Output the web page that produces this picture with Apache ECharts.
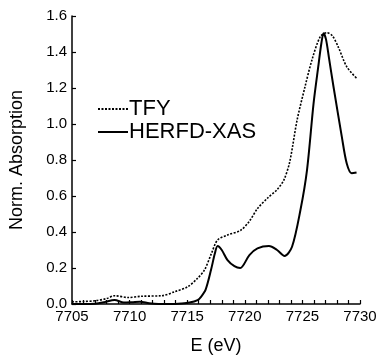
<!DOCTYPE html>
<html>
<head>
<meta charset="UTF-8">
<title>XAS</title>
<script src="https://cdn.jsdelivr.net/npm/echarts@6/dist/echarts.min.js"></script>
<style>
  html, body { margin: 0; padding: 0; background: #fff; }
</style>
</head>
<body>
<div id="main" style="width: 382px; height: 363px;"></div>
<script type="text/javascript">
// TFY (dotted)
var tfyE = [7705, 7706, 7707, 7708, 7708.7, 7709.9, 7711, 7712.8, 7713.9, 7715.05, 7715.9, 7716.5, 7717.1, 7717.64,
            7718.5, 7719.65, 7720.4, 7721.1, 7722, 7722.8, 7723.4, 7723.9, 7724.54, 7725.2, 7725.83, 7726.55,
            7727.13, 7727.6, 7728.1, 7728.85, 7729.7];
var tfyY = [0.012, 0.014, 0.018, 0.03, 0.046, 0.036, 0.043, 0.046, 0.068, 0.096, 0.143, 0.189, 0.28, 0.356,
            0.383, 0.41, 0.46, 0.53, 0.59, 0.635, 0.69, 0.79, 1.022, 1.2, 1.356, 1.485,
            1.507, 1.49, 1.43, 1.318, 1.254];
// HERFD-XAS (solid)
var herfdE = [7705, 7706, 7707, 7707.8, 7708.7, 7709.5, 7710.2, 7710.9, 7711.7, 7712.5, 7713.5, 7714.5, 7715.2,
              7715.9, 7716.2, 7716.6, 7717.07, 7717.4, 7717.64, 7718, 7718.5, 7719.1, 7719.6, 7720.4, 7721.1,
              7722.1, 7722.8, 7723.45, 7724.1, 7724.83, 7725.4, 7725.97, 7726.4, 7726.65, 7726.84, 7727.05,
              7727.3, 7727.7, 7728.42, 7728.85, 7729.28, 7729.7];
var herfdY = [0.0, 0.0, 0.002, 0.01, 0.022, 0.008, 0.01, 0.013, 0.004, 0.0, 0.0, 0.003, 0.008,
              0.022, 0.04, 0.08, 0.19, 0.28, 0.322, 0.3, 0.244, 0.21, 0.2, 0.272, 0.309,
              0.322, 0.3, 0.267, 0.318, 0.522, 0.744, 1.115, 1.33, 1.45, 1.504, 1.47,
              1.37, 1.207, 0.93, 0.78, 0.726, 0.73];
var seriesNames = ['TFY', 'HERFD-XAS'];

function pairs(xs, ys) {
    var out = [];
    for (var i = 0; i < xs.length; i++) out.push([xs[i], ys[i]]);
    return out;
}

var myChart = echarts.init(document.getElementById('main'));
var font = 'Liberation Sans, Arial, sans-serif';

var option = {
    animation: false,
    backgroundColor: '#fff',
    grid: { left: 70, right: 22, top: 16, bottom: 59 },
    legend: {
        orient: 'vertical',
        left: 92,
        top: 93,
        itemWidth: 30,
        itemHeight: 10,
        itemGap: 1,
        itemStyle: { opacity: 0 },
        textStyle: { fontFamily: font, fontSize: 22, color: '#000', padding: [0, 0, 0, -4] },
        data: seriesNames
    },
    xAxis: {
        type: 'value',
        min: 7705,
        max: 7730,
        interval: 5,
        name: 'E (eV)',
        nameLocation: 'middle',
        nameGap: 33,
        nameTextStyle: { fontFamily: font, fontSize: 18, color: '#000' },
        axisLine: { lineStyle: { color: '#000', width: 1.5 } },
        axisTick: { inside: true, length: 4, lineStyle: { color: '#000', width: 1.2 } },
        minorTick: { show: true, splitNumber: 5, length: 4, lineStyle: { color: '#000', width: 1.2 } },
        axisLabel: {
            fontFamily: font, fontSize: 15, color: '#000', margin: 5,
            formatter: function (v) { return String(v); }
        },
        splitLine: { show: false }
    },
    yAxis: {
        type: 'value',
        min: 0,
        max: 1.6,
        interval: 0.2,
        name: 'Norm. Absorption',
        nameLocation: 'middle',
        nameGap: 46,
        nameTextStyle: { fontFamily: font, fontSize: 18, color: '#000' },
        axisLine: { show: true, lineStyle: { color: '#000', width: 1.5 } },
        axisTick: { show: true, inside: true, length: 4, lineStyle: { color: '#000', width: 1.2 } },
        axisLabel: {
            fontFamily: font, fontSize: 15, color: '#000', margin: 5,
            formatter: function (v) { return v.toFixed(1); }
        },
        splitLine: { show: false }
    },
    series: [
        {
            name: seriesNames[0],
            type: 'line',
            symbol: 'none',
            smooth: 0.3,
            lineStyle: { color: '#000', width: 1.6, type: [2, 1.5] },
            itemStyle: { color: '#000' },
            data: pairs(tfyE, tfyY)
        },
        {
            name: seriesNames[1],
            type: 'line',
            symbol: 'none',
            smooth: 0.3,
            lineStyle: { color: '#000', width: 2 },
            itemStyle: { color: '#000' },
            data: pairs(herfdE, herfdY)
        }
    ]
};

myChart.setOption(option);
</script>
</body>
</html>
